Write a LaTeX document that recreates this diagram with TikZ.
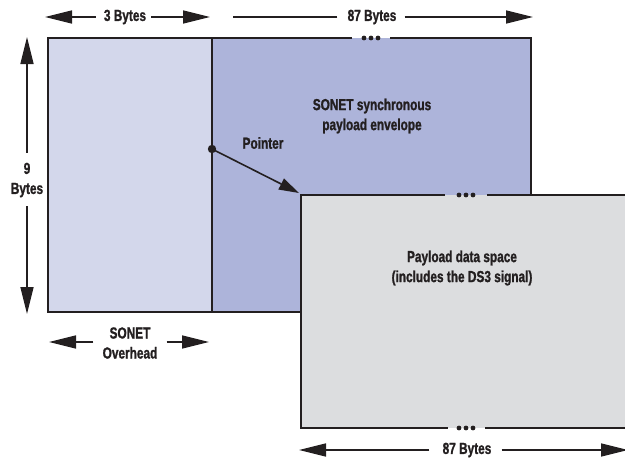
\documentclass[tikz,border=0pt]{standalone}
\usepackage{fontspec}
\setmainfont{Liberation Sans}[FakeStretch=0.74,FakeBold=1.2]
\usetikzlibrary{arrows.meta}
\definecolor{ink}{HTML}{231F20}
\definecolor{ohfill}{HTML}{D3D7EB}
\definecolor{spefill}{HTML}{ADB4DA}
\definecolor{payfill}{HTML}{DCDDDF}
\begin{document}
\begin{tikzpicture}[x=1pt,y=-1pt,
  lbl/.style={font=\bfseries\fontsize{16}{20}\selectfont, text=ink, align=center, inner sep=0pt},
  border/.style={draw=ink, line width=2.2pt},
  dim/.style={draw=ink, line width=1.6pt},
  bigtip/.style={-{Triangle[length=27pt,width=13pt]}},
  ptrtip/.style={-{Triangle[length=20pt,width=12pt]}},
  gapdot/.style={fill=ink},
]
\useasboundingbox (0,0) rectangle (625,458);

% area fills
\fill[ohfill] (48,38) rectangle (212,312);
\fill[spefill] (212,38) rectangle (531,312);
\fill[payfill] (301,195) rectangle (632,428);

% frame outlines, broken where the dots mark the continuation
\draw[border] (352,38) -- (48,38) -- (48,312) -- (301,312);
\draw[border] (390,38) -- (531,38) -- (531,195);
\draw[border] (212,38) -- (212,312);
\draw[border] (445,195) -- (301,195) -- (301,428) -- (448,428);
\draw[border] (487,195) -- (632,195);
\draw[border] (485,428) -- (632,428);

% continuation dots
\coordinate (dtop) at (371,38);
\coordinate (dmid) at (466,195);
\coordinate (dbot) at (466,428);
\foreach \c in {dtop,dmid,dbot}
  \foreach \dx in {-7,0,7}
    \fill[gapdot] ([xshift=\dx pt]\c) circle (2.4pt);

% text labels
\node[lbl] (three) at (125,17) {3 Bytes};
\node[lbl] (eightyseven) at (372,17) {87 Bytes};
\node[lbl] (nine) at (27,180) {9\\Bytes};
\node[lbl] (ovh) at (130,343) {SONET\\Overhead};
\node[lbl] (spe) at (372,116) {SONET synchronous\\payload envelope};
\node[lbl] (pointer) at (263,143) {Pointer};
\node[lbl] (pds) at (462,268) {Payload data space\\(includes the DS3 signal)};
\node[lbl] (eightysevenb) at (467,450) {87 Bytes};

% arrow end points
\coordinate (threeL) at (45,17);
\coordinate (threeR) at (210,17);
\coordinate (topL) at (233,17);
\coordinate (topR) at (533,17);
\coordinate (nineT) at (27,37);
\coordinate (nineB) at (27,314);
\coordinate (ovhL) at (49,342);
\coordinate (ovhR) at (209,342);
\coordinate (botL) at (299,450);
\coordinate (botR) at (628,450);
\coordinate (ptrA) at (212,149);
\coordinate (ptrB) at (299,193);

% dimension arrows
\draw[dim,bigtip] ([xshift=-8pt]three.west) -- (threeL);
\draw[dim,bigtip] ([xshift=5pt]three.east) -- (threeR);
\draw[dim] ([xshift=-10pt]eightyseven.west) -- (topL);
\draw[dim,bigtip] ([xshift=8pt]eightyseven.east) -- (topR);
\draw[dim,bigtip] ([yshift=10pt]nine.north) -- (nineT);
\draw[dim,bigtip] ([yshift=-9pt]nine.south) -- (nineB);
\draw[dim,bigtip] ([xshift=-9pt,yshift=1pt]ovh.west) -- (ovhL);
\draw[dim,bigtip] ([xshift=9pt,yshift=1pt]ovh.east) -- (ovhR);
\draw[dim,bigtip] ([xshift=-13pt]eightysevenb.west) -- (botL);
\draw[dim,bigtip] ([xshift=10pt]eightysevenb.east) -- (botR);

% pointer
\fill[ink] (ptrA) circle (4.2pt);
\draw[dim,ptrtip] (ptrA) -- (ptrB);
\end{tikzpicture}
\end{document}
